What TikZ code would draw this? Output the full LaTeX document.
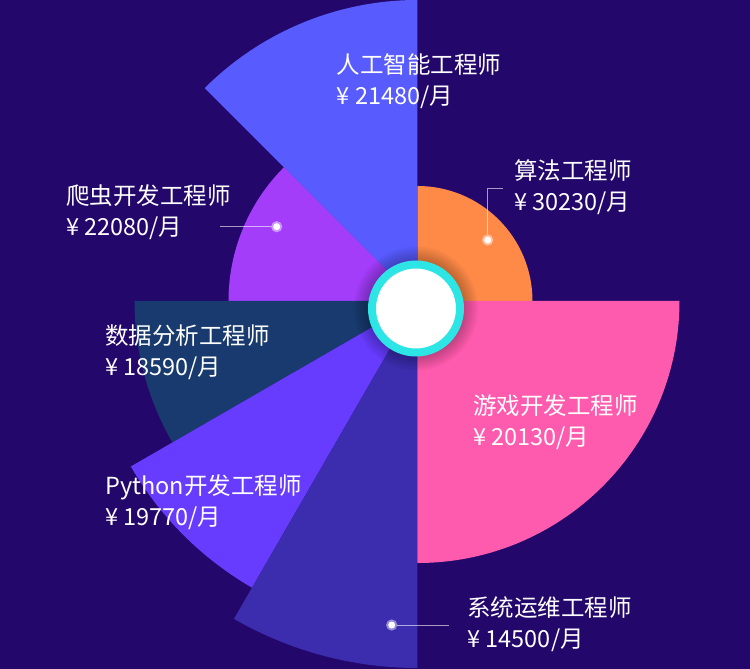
\documentclass[tikz,border=0pt]{standalone}
\usepackage{fontspec}
\newfontfamily\cjk{Noto Sans CJK SC}
\definecolor{bgpurple}{HTML}{23076B}
\definecolor{aiblue}{HTML}{585CFF}
\definecolor{spiderpurple}{HTML}{A33DFA}
\definecolor{datanavy}{HTML}{183A6E}
\definecolor{pyviolet}{HTML}{683CFF}
\definecolor{opsindigo}{HTML}{3C2DAF}
\definecolor{gamepink}{HTML}{FF5BAE}
\definecolor{algoorange}{HTML}{FF8A48}
\definecolor{hubcyan}{HTML}{2EE5E6}
\tikzset{
    job/.style={text=white, font=\cjk\fontsize{23.5}{31}\selectfont, align=left, anchor=west, inner sep=0pt},
    leader/.style={draw=white, draw opacity=0.6, line width=0.8pt},
    pin/.style={circle, fill=white, draw=white, draw opacity=0.45, line width=4pt, minimum size=7pt, inner sep=0pt}
}
\begin{document}
\begin{tikzpicture}[x=1pt,y=1pt]
        \useasboundingbox (-417.5,-368) rectangle (332.5,301);
        \fill[bgpurple] (-417.5,-368) rectangle (332.5,301);
        % sectors
        \fill[algoorange] (0,0) -- (0:115pt) arc[start angle=0, end angle=90, radius=115pt] -- cycle;
        \fill[aiblue] (0,0) -- (90:301pt) arc[start angle=90, end angle=135, radius=301pt] -- cycle;
        \fill[spiderpurple] (0,0) -- (135:189pt) arc[start angle=135, end angle=180, radius=189pt] -- cycle;
        \fill[datanavy] (0,0) -- (180:283pt) arc[start angle=180, end angle=210, radius=283pt] -- cycle;
        \fill[pyviolet] (0,0) -- (210:331pt) arc[start angle=210, end angle=240, radius=331pt] -- cycle;
        \fill[opsindigo] (0,0) -- (240:367pt) arc[start angle=240, end angle=270, radius=367pt] -- cycle;
        \fill[gamepink] (0,0) -- (270:262pt) arc[start angle=270, end angle=360, radius=262pt] -- cycle;
        % hub
        \coordinate (hubc) at (-1.5,-7.5);
        \foreach \r in {50,52,...,62}
            \fill[black, opacity=0.035] (hubc) circle (\r pt);
        \node[circle, fill=white, draw=hubcyan, line width=8pt, minimum size=88pt, inner sep=0pt] (hub) at (hubc) {};
        % labels
        \node[job] (ai) at (-80.8,220.1) {人工智能工程师\\¥ 21480/月};
        \node[job] (algo) at (96.5,114) {算法工程师\\¥ 30230/月};
        \node[job] (spider) at (-351.5,89.3) {爬虫开发工程师\\¥ 22080/月};
        \node[job] (data) at (-312.5,-51) {数据分析工程师\\¥ 18590/月};
        \node[job] (game) at (55.5,-121) {游戏开发工程师\\¥ 20130/月};
        \node[job] (py) at (-312.5,-201) {Python开发工程师\\¥ 19770/月};
        \node[job] (ops) at (49.8,-323.5) {系统运维工程师\\¥ 14500/月};
        % pins
        \node[pin] (algopin) at (70.2,61) {};
        \coordinate (algoend) at (85.2,112.7);
        \draw[leader] (algopin) |- (algoend);
        \node[pin] (spiderpin) at (-140.8,74.3) {};
        \coordinate (spiderend) at (-197.5,74.3);
        \draw[leader] (spiderpin) -- (spiderend);
        \node[pin] (opspin) at (-25.8,-324) {};
        \coordinate (opsend) at (31.8,-324);
        \draw[leader] (opspin) -- (opsend);
\end{tikzpicture}
\end{document}
